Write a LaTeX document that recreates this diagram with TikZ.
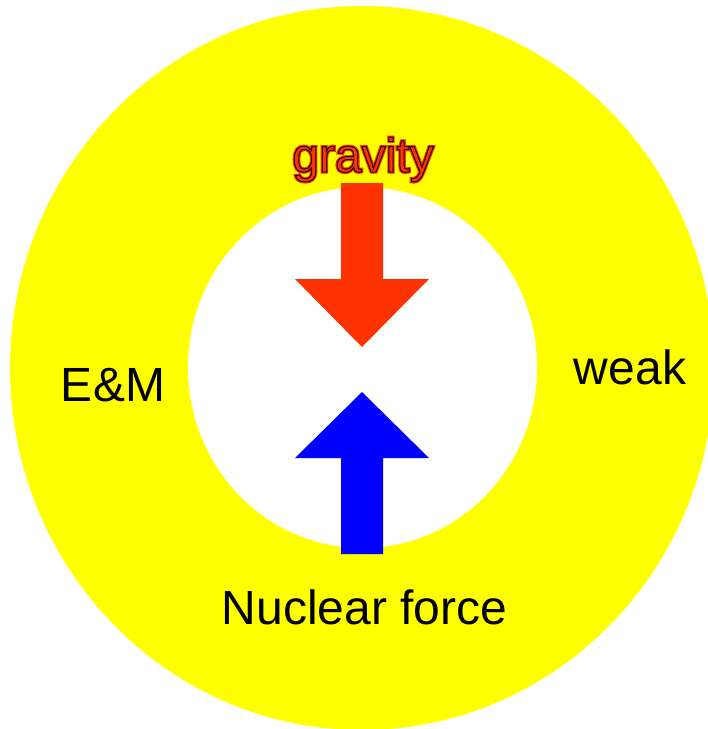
\documentclass[tikz,border=0pt]{standalone}
\usepackage{fontspec}
\setmainfont{Liberation Sans}
\definecolor{ringyellow}{HTML}{FFFF00}
\definecolor{gravred}{HTML}{FF3300}
\definecolor{nucblue}{HTML}{0000FF}
\begin{document}
\begin{tikzpicture}[x=1pt,y=-1pt,
  lbl/.style={anchor=base,font=\fontsize{48}{52}\selectfont,inner sep=0pt,text=black}]
\useasboundingbox (0,0) rectangle (708,729);
\fill[white] (0,0) rectangle (708,729);
\begin{scope}
\clip (0,0) rectangle (708,729);
\fill[ringyellow] (362,368) ellipse [x radius=352, y radius=362];
\end{scope}
\fill[white] (362.5,367.5) ellipse [x radius=174.5, y radius=180.5];
% red arrow (down)
\fill[gravred] (341,183) -- (383,183) -- (383,279) -- (429,279) -- (362,347) -- (295,279) -- (341,279) -- cycle;
% blue arrow (up)
\fill[nucblue] (341,554) -- (383,554) -- (383,458) -- (429,458) -- (362,392) -- (295,458) -- (341,458) -- cycle;
\node[lbl,text=gravred] (gravityhalo) at (363,172) {\special{pdf:code 2 Tr 3.2 w 1 0.2 0 RG}gravity\special{pdf:code 0 Tr}};
\node[lbl,text=gravred] (gravity) at (363,172) {\special{pdf:code 2 Tr 1.0 w 0.1 0 0 RG}gravity\special{pdf:code 0 Tr}};
\node[lbl] (em) at (113,401) {E\&M};
\node[lbl] (weak) at (630,384) {weak};
\node[lbl] (nuclear) at (364.5,624) {Nuclear force};
\end{tikzpicture}
\end{document}
